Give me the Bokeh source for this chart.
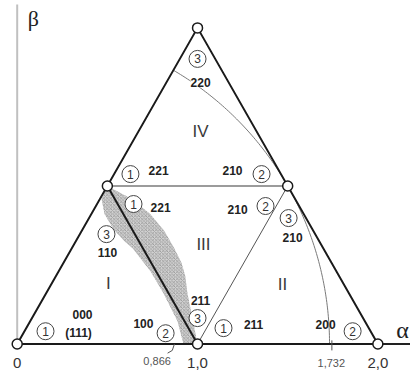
import numpy as np
from bokeh.plotting import figure
from bokeh.models import Range1d, Label
from bokeh.core.properties import value
from bokeh.embed import file_html
from bokeh.resources import INLINE

SQ3 = 1.732
# --- data -------------------------------------------------------------
# outer triangle (α, β)
outer_alpha = [0.0, 2.0, 1.0, 0.0]
outer_beta = [0.0, 0.0, SQ3, 0.0]
# inner triangle vertices: mid-left, mid-right, bottom-middle
mid_alpha = [0.5, 1.5, 1.0]
mid_beta = [SQ3 / 2, SQ3 / 2, 0.0]
# nodes (small open circles)
node_alpha = [0.0, 1.0, 2.0, 1.0, 0.5, 1.5]
node_beta = [0.0, 0.0, 0.0, SQ3, SQ3 / 2, SQ3 / 2]
# arc radius (centred on origin)
arc_radius = 1.732
arc_start_deg = 60
arc_end_deg = 0
# tick values and labels on α axis
tick_values = [0.0, 0.866, 1.0, 1.732, 2.0]
tick_labels = ["0", "0,866", "1,0", "1,732", "2,0"]
# hatched band boundaries
band_left_alpha = [0.5, 0.468, 0.484, 0.534, 0.595, 0.640, 0.739, 0.811, 0.889, 0.922]
band_left_beta = [0.866, 0.794, 0.712, 0.629, 0.563, 0.525, 0.399, 0.278, 0.125, 0.0]
band_right_alpha = [0.5, 0.635, 0.738, 0.816, 0.871, 0.912, 0.932, 0.944, 0.975, 1.0]
band_right_beta = [0.866, 0.794, 0.712, 0.619, 0.525, 0.442, 0.372, 0.278, 0.125, 0.0]
# region names
region_names = ["I", "II", "III", "IV"]
region_alpha = [0.506, 1.471, 1.033, 1.017]
region_beta = [0.329, 0.328, 0.547, 1.167]
# index labels
index_text = ["221", "210", "221", "210", "210", "110", "000", "(111)", "100", "211", "211", "200"]
index_alpha = [0.784, 1.194, 0.795, 1.222, 1.527, 0.501, 0.362, 0.340, 0.700, 1.017, 1.311, 1.710]
index_beta = [0.948, 0.948, 0.750, 0.739, 0.581, 0.504, 0.164, 0.059, 0.114, 0.240, 0.109, 0.109]
# circled numbers
circ_text = ["3", "1", "2", "1", "2", "3", "3", "1", "2", "3", "1", "2"]
circ_alpha = [1.0, 0.628, 1.355, 0.645, 1.377, 1.505, 0.495, 0.157, 0.823, 1.0, 1.144, 1.860]
circ_beta = [1.562, 0.931, 0.931, 0.767, 0.756, 0.690, 0.602, 0.070, 0.059, 0.142, 0.087, 0.070]

# --- figure -----------------------------------------------------------
p = figure(width=410, height=374, output_backend="svg", toolbar_location=None,
           x_range=Range1d(-0.0926, 2.181), y_range=Range1d(-0.167, 1.882),
           x_axis_type=None, y_axis_type=None, min_border=0)
p.grid.visible = False
p.outline_line_color = None
p.background_fill_color = "white"
p.border_fill_color = "white"

# hatched band
band_a = band_left_alpha + band_right_alpha[::-1]
band_b = band_left_beta + band_right_beta[::-1]
p.patch(band_a, band_b, fill_color="#d2d2d2", line_color=None,
        hatch_pattern="x", hatch_color="#8c8c8c", hatch_scale=3.5, hatch_weight=0.7)

# β axis (thin gray vertical) and α axis
p.line([0, 0], [0, 1.86], line_color="#c0c0c0", line_width=2)
p.line([0, 2.181], [0, 0], line_color="#222222", line_width=2)

# arc of radius √3
th = np.radians(np.linspace(arc_start_deg, arc_end_deg, 120))
p.line(arc_radius * np.cos(th), arc_radius * np.sin(th), line_color="#7a7a7a", line_width=1)

# inner lines
p.line([mid_alpha[0], mid_alpha[1]], [mid_beta[0], mid_beta[1]], line_color="#7a7a7a", line_width=1.5)
p.line([mid_alpha[1], mid_alpha[2]], [mid_beta[1], mid_beta[2]], line_color="#555555", line_width=1)
p.line([mid_alpha[0], mid_alpha[2]], [mid_beta[0], mid_beta[2]], line_color="#1a1a1a", line_width=2)

# outer triangle
p.line(outer_alpha, outer_beta, line_color="#1a1a1a", line_width=2)

# tick leaders
p.line([0.834, 0.86, 0.872], [-0.05, -0.035, 0.0], line_color="#555555", line_width=1)
p.line([1.745, 1.745], [0.02, -0.035], line_color="#555555", line_width=1)

# nodes
p.scatter(node_alpha, node_beta, size=10, fill_color="white", line_color="#1a1a1a", line_width=1.5)

# region names
p.text(region_alpha, region_beta, text=region_names, text_font=value("Liberation Sans"),
       text_font_size="17px", text_color="#3a3a3a", text_align="center", text_baseline="middle")

# index labels
p.text(index_alpha, index_beta, text=index_text, text_font=value("Liberation Sans"),
       text_font_style="bold", text_font_size="12px", text_color="#222222",
       text_align="center", text_baseline="middle")
p.add_layout(Label(x=1.017, y=1.431, text="220", text_font="Liberation Sans",
                   text_font_style="bold", text_font_size="12px", text_color="#222222",
                   text_align="center", text_baseline="middle",
                   background_fill_color="white", background_fill_alpha=1.0))

# circled numbers
p.scatter(circ_alpha, circ_beta, size=17, fill_color="white", line_color="#444444", line_width=1)
p.text(circ_alpha, circ_beta, text=circ_text, text_font=value("Liberation Sans"),
       text_font_size="12px", text_color="#333333", text_align="center", text_baseline="middle")

# tick labels
big = [0, 2, 4]
small = [1, 3]
p.text([tick_values[i] for i in big], [-0.102] * 3, text=[tick_labels[i] for i in big],
       text_font=value("Liberation Sans"), text_font_size="15px", text_color="#333333",
       text_align="center", text_baseline="middle")
p.text([tick_values[1] - 0.09, tick_values[3] + 0.01], [-0.094, -0.102],
       text=[tick_labels[i] for i in small], text_font=value("Liberation Sans"),
       text_font_size="11px", text_color="#555555", text_align="center", text_baseline="middle")

# axis names
p.text([2.137], [0.075], text=["α"], text_font=value("Liberation Serif"), text_font_size="24px",
       text_color="#222222", text_align="center", text_baseline="middle")
p.text([0.09], [1.782], text=["β"], text_font=value("Liberation Serif"), text_font_size="22px",
       text_color="#222222", text_align="center", text_baseline="middle")

open("out.html", "w").write(file_html(p, INLINE))
